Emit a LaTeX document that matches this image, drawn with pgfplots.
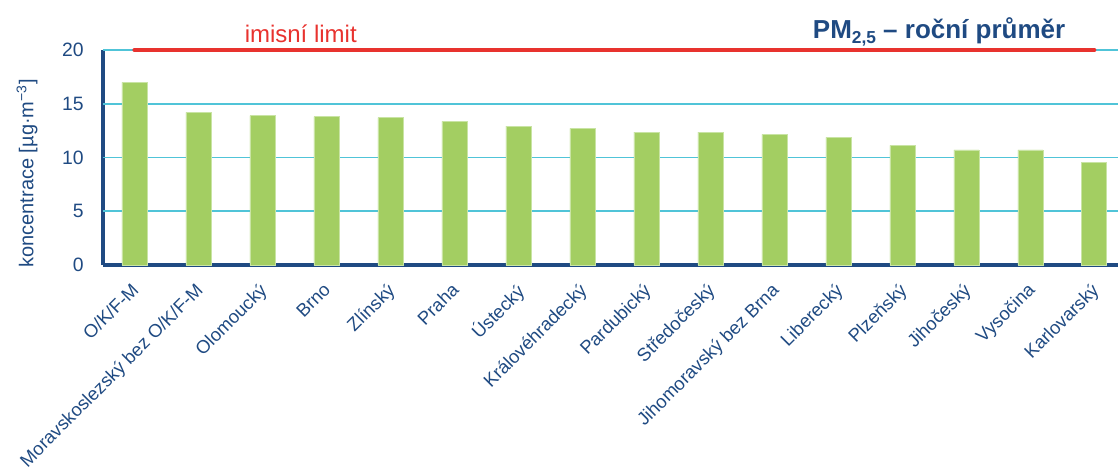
\documentclass[border=0pt]{standalone}
\usepackage{pgfplots}
\pgfplotsset{compat=1.18}
\usepackage{fontspec}
\setmainfont{Liberation Sans}
\definecolor{barg}{HTML}{A3CE62}
\definecolor{baredge}{HTML}{C9E4A4}
\definecolor{gridc}{RGB}{80,196,216}
\definecolor{limred}{HTML}{E8322E}
\definecolor{darkb}{HTML}{1F4A82}
\begin{document}
\begin{tikzpicture}
\begin{axis}[
  at={(0,0)}, anchor=south west,
  scale only axis, width=761.25pt, height=161.25pt,
  xmin=-0.49, xmax=15.37, ymin=0, ymax=20,
  axis x line*=bottom, axis y line*=left,
  axis line style={darkb, line width=3pt, -},
  ytick={0,5,10,15,20},
  major tick length=0pt,
  xtick={0,...,15},
  xticklabels={O/K/F-M, Moravskoslezský bez O/K/F-M, Olomoucký, Brno, Zlínský, Praha, Ústecký, Královéhradecký, Pardubický, Středočeský, Jihomoravský bez Brna, Liberecký, Plzeňský, Jihočeský, Vysočina, Karlovarský},
  xticklabel style={xshift=-3pt, yshift=-12.5pt, rotate=45, anchor=north east, inner sep=0pt, font=\fontsize{13.8}{15}\selectfont, text=darkb},
  yticklabel style={font=\fontsize{14.5}{16}\selectfont, text=darkb, xshift=-11pt},
  /pgf/number format/assume math mode=true,
  ylabel={koncentrace [µg·m\textsuperscript{−3}]},
  ylabel style={at={(axis description cs:-0.0749,0.426)}, anchor=center, font=\fontsize{15}{17}\selectfont, text=darkb},
  clip=false,
]
\foreach \g in {5,10,15,20}{
  \edef\temp{\noexpand\draw[draw=gridc, line width=1.3pt] (axis cs:-0.49,\g) -- (axis cs:15.37,\g);}
  \temp
}
\addplot[ybar, bar width=18.75pt, fill=barg, draw=baredge, line width=0.5pt] coordinates {
(0,17.0) (1,14.2) (2,13.9) (3,13.8) (4,13.7) (5,13.36) (6,12.92) (7,12.7)
(8,12.36) (9,12.36) (10,12.15) (11,11.87) (12,11.13) (13,10.7) (14,10.7) (15,9.55)};
\addplot[limred, line width=3pt, line cap=round] coordinates {(0,20) (15,20)};
\node[anchor=base, text=limred, font=\fontsize{18}{20}\selectfont] at (axis cs:2.6,20.74) {imisní limit};
\node[anchor=base east, text=darkb, font=\fontsize{19.5}{24}\selectfont\bfseries] at (axis cs:14.62,21.1) {PM\raisebox{-0.4ex}{\fontsize{13}{14}\selectfont 2,5} – roční průměr};
\end{axis}
\pgfresetboundingbox
\path (-77.25pt,-151.5pt) rectangle (762.75pt,198.75pt);
\end{tikzpicture}
\end{document}
